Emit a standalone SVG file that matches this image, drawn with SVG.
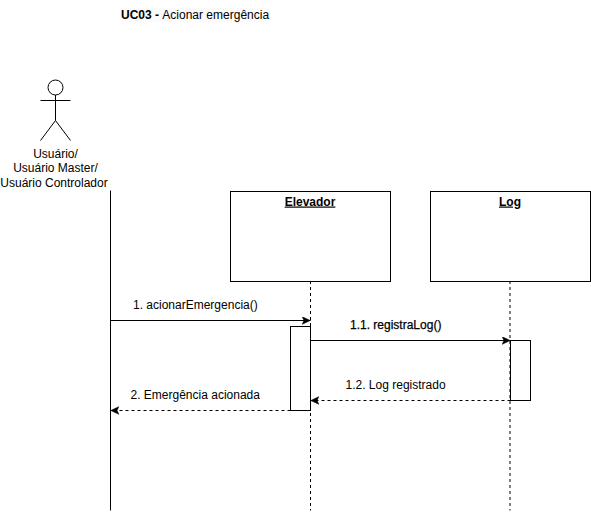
<svg xmlns="http://www.w3.org/2000/svg" width="591" height="512" viewBox="0 0 591 512">
<style>
text{font-family:"Liberation Sans",Arial,sans-serif;font-size:12px;fill:#000}
.m{text-anchor:middle}
.b{font-weight:bold}
.u{text-decoration:underline}
.s{fill:none;stroke:#000;stroke-width:1}
.box{fill:#fff;stroke:#000;stroke-width:1}
.d{stroke-dasharray:3 3}
</style>
<defs>
<marker id="a" markerUnits="userSpaceOnUse" markerWidth="10" markerHeight="10" refX="8.500" refY="4" orient="auto"><path d="M0 0L8.500 4L0 8L1.800 4Z" fill="#000" stroke="#000" stroke-width="0.300"/></marker>
</defs>
<rect width="591" height="512" fill="#fff"/>
<g id="title"><rect x="121" y="8" width="148" height="14" fill="#fbfbfb"/><text x="121" y="19"><tspan class="b">UC03 - </tspan>Acionar emergência</text></g>
<g id="actor">
<ellipse class="s" cx="55.5" cy="87.500" rx="7.500" ry="7.500"/>
<path class="s" d="M55.500 95V120.500M40.500 100.500H70.500M55.500 120.500L40.500 140.500M55.500 120.500L70.500 140.500"/>
<text class="m" x="55.500" y="158">Usuário/</text>
<text class="m" x="55.500" y="172">Usuário Master/</text>
<text class="m" x="54" y="187">Usuário Controlador</text>
</g>
<g id="connectors">
<path class="s" d="M110.500 190.500V510.500"/>
<path class="s d" d="M310.500 281V510.500"/>
<path class="s d" d="M510 281V510.500"/>
</g>
<g id="elevador">
<rect class="box" x="230.500" y="191.500" width="160" height="90"/>
<text class="m b u" x="310" y="205.500">Elevador</text>
<rect class="box" x="290.500" y="326.500" width="20" height="84"/>
</g>
<g id="log">
<rect class="box" x="430.500" y="191.500" width="160" height="90"/>
<text class="m b u" x="510" y="205.500">Log</text>
<rect class="s" x="510.500" y="340.500" width="20" height="60"/>
</g>
<g id="messages">
<path class="s" d="M110.500 320.500H310.500" marker-end="url(#a)"/>
<path class="s" d="M310.500 340.500H510.500" marker-end="url(#a)"/>
<path class="s d" d="M510.500 400.500H310.500" marker-end="url(#a)"/>
<path class="s d" d="M290.500 410.500H110.500" marker-end="url(#a)"/>
<text x="133" y="309">1. acionarEmergencia()</text>
<text x="350" y="329" stroke="#000" stroke-width="0.250">1.1. registraLog()</text>
<text x="345.500" y="389">1.2. Log registrado</text>
<text x="130.500" y="399">2. Emergência acionada</text>
</g>
</svg>
